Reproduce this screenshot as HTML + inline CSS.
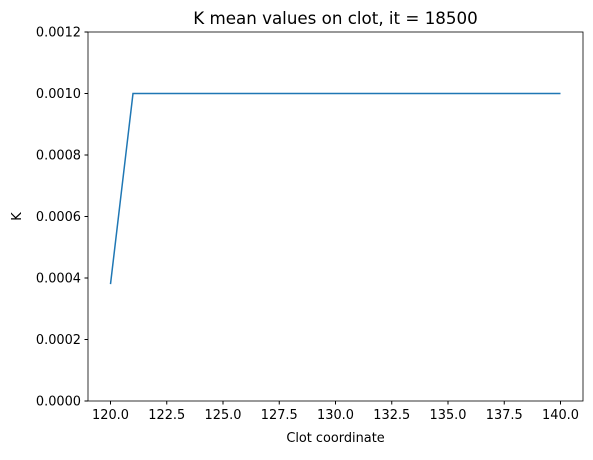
<!DOCTYPE html>
<html><head><meta charset="utf-8"><style>
body{margin:0;background:#fff;font-family:"Liberation Sans","DejaVu Sans",sans-serif;}
text{font-family:"DejaVu Sans","Liberation Sans",sans-serif;}
</style></head><body>
<svg id="chart" width="593" height="455">
<rect x="0" y="0" width="593" height="455" fill="#fff"/>
<text x="335.5" y="24" font-size="16.7" text-anchor="middle">K mean values on clot, it = 18500</text>
<text x="335.5" y="442" font-size="12.9" text-anchor="middle">Clot coordinate</text>
<text transform="translate(21,216.5) rotate(-90)" font-size="12.9" text-anchor="middle">K</text>
<g id="xt"></g><g id="yt"></g>
<polyline id="line" fill="none" stroke="#1f77b4" stroke-width="1.5"/>
<rect x="88" y="32" width="495" height="369" fill="none" stroke="#000" stroke-width="0.8"/>
</svg>
<script>
const xs=[120,121,122,123,124,125,126,127,128,129,130,131,132,133,134,135,136,137,138,139,140];
const ys=[0.00038,0.001,0.001,0.001,0.001,0.001,0.001,0.001,0.001,0.001,0.001,0.001,0.001,0.001,0.001,0.001,0.001,0.001,0.001,0.001,0.001];
const xTicks=[120,122.5,125,127.5,130,132.5,135,137.5,140];
const xTickLabels=["120.0","122.5","125.0","127.5","130.0","132.5","135.0","137.5","140.0"];
const yTicks=[0,0.0002,0.0004,0.0006,0.0008,0.001,0.0012];
const yTickLabels=["0.0000","0.0002","0.0004","0.0006","0.0008","0.0010","0.0012"];
const L=88,R=583,T=32,B=401,xmin=119,xmax=141,ymin=0,ymax=0.0012;
const sx=v=>L+(v-xmin)/(xmax-xmin)*(R-L);
const sy=v=>B-(v-ymin)/(ymax-ymin)*(B-T);
const NS="http://www.w3.org/2000/svg";
const xt=document.getElementById('xt'),yt=document.getElementById('yt');
xTicks.forEach((v,i)=>{
 const l=document.createElementNS(NS,'line');
 l.setAttribute('x1',sx(v));l.setAttribute('x2',sx(v));l.setAttribute('y1',B);l.setAttribute('y2',B+3.5);l.setAttribute('stroke','#000');
 
 
 xt.appendChild(l);
 const t=document.createElementNS(NS,'text');
 t.setAttribute('x',sx(v));t.setAttribute('y',B+18);t.setAttribute('font-size','12.9');t.setAttribute('text-anchor','middle');t.textContent=xTickLabels[i];
 
 
 xt.appendChild(t);
});
yTicks.forEach((v,i)=>{
 const l=document.createElementNS(NS,'line');
 l.setAttribute('x1',L-3.5);l.setAttribute('x2',L);l.setAttribute('y1',sy(v));l.setAttribute('y2',sy(v));l.setAttribute('stroke','#000');
 
 
 yt.appendChild(l);
 const t=document.createElementNS(NS,'text');
 t.setAttribute('x',L-7);t.setAttribute('y',sy(v)+4.5);t.setAttribute('font-size','12.9');t.setAttribute('text-anchor','end');t.textContent=yTickLabels[i];
 
 
 yt.appendChild(t);
});
document.getElementById('line').setAttribute('points',xs.map((x,i)=>sx(x)+','+sy(ys[i])).join(' '));
</script>
</body></html>
